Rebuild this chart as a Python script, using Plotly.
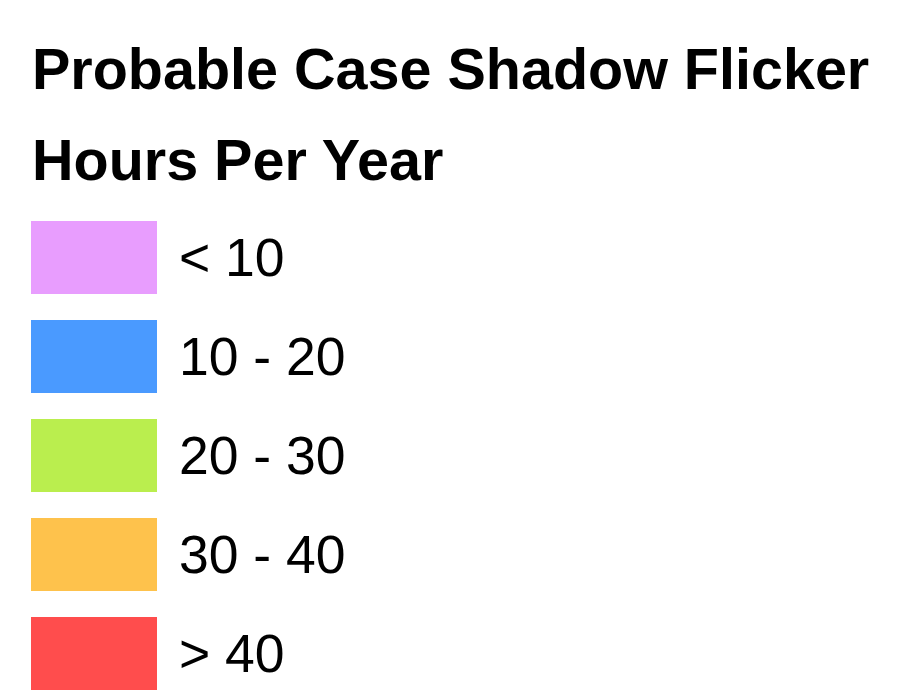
import plotly.graph_objects as go

# Legend data
title_lines = ["Probable Case Shadow Flicker", "Hours Per Year"]
class_labels = ["< 10", "10 - 20", "20 - 30", "30 - 40", "> 40"]
class_colors = ["#E89DFE", "#4A9AFF", "#BAEE4E", "#FEC24C", "#FF4D4D"]

W, H = 900, 691
row0_px = 257.5      # pixel centre of first legend row
row_px = 99.0        # pixel spacing between rows
sw_left, sw_width = 31, 126
sw_height = 73 / row_px

rows = list(range(len(class_labels)))

fig = go.Figure()
for i, (lab, col) in enumerate(zip(class_labels, class_colors)):
    fig.add_trace(go.Bar(
        y=[rows[i]], x=[sw_width], base=[sw_left], orientation="h",
        width=sw_height, marker=dict(color=col, line=dict(width=0)),
        name=lab, showlegend=False, hoverinfo="name",
    ))

font = "Liberation Sans, Arial, Helvetica, sans-serif"
annotations = []
for i, lab in enumerate(class_labels):
    annotations.append(dict(
        x=177, y=rows[i], xref="x", yref="y", text=lab, showarrow=False,
        xanchor="left", yanchor="middle",
        font=dict(family=font, size=53.5, color="#000000"),
    ))
title_y = [-1.908, -0.984]
for t, ty in zip(title_lines, title_y):
    annotations.append(dict(
        x=30, y=ty, xref="x", yref="y", text="<b>" + t + "</b>", showarrow=False,
        xanchor="left", yanchor="middle",
        font=dict(family=font, size=57.5, color="#000000"),
    ))

y_top = -row0_px / row_px
y_bot = (H - row0_px) / row_px

fig.update_layout(
    width=W, height=H,
    margin=dict(l=0, r=0, t=0, b=0),
    paper_bgcolor="white", plot_bgcolor="white",
    xaxis=dict(range=[0, W], visible=False, fixedrange=True),
    yaxis=dict(range=[y_bot, y_top], visible=False, fixedrange=True),
    annotations=annotations,
    barmode="overlay",
)

fig.write_html("out.html", config={"displayModeBar": False},
               post_script="document.body.style.margin='0';document.body.style.overflow='hidden';")
